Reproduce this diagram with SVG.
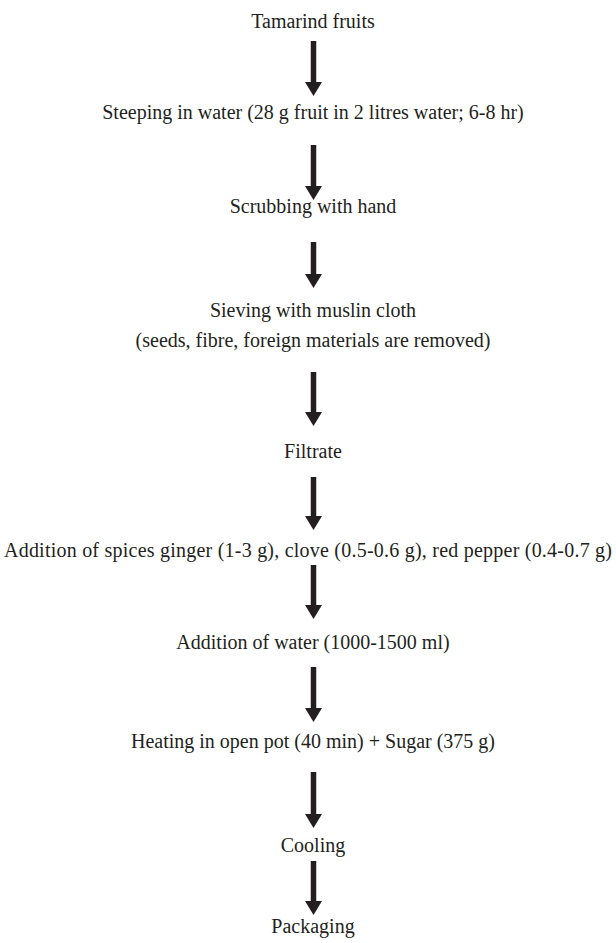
<svg xmlns="http://www.w3.org/2000/svg" width="616" height="943" viewBox="0 0 616 943">
<style>
  text { font-family: "Liberation Serif", "Times New Roman", serif; font-size: 20px; fill: #231f20; text-anchor: middle; }
  .arr { stroke: #231f20; stroke-width: 5.5; fill: none; marker-end: url(#head); }
</style>
<defs>
  <marker id="head" markerUnits="userSpaceOnUse" markerWidth="14" markerHeight="17" viewBox="0 0 14 17" refX="1" refY="8.5" orient="auto">
    <path d="M0,0 L14,8.5 L0,17 Z" fill="#231f20"/>
  </marker>
</defs>
<rect width="616" height="943" fill="#ffffff"/>
<g id="connectors">
  <line class="arr" x1="313.5" y1="41" x2="313.5" y2="83"/>
  <line class="arr" x1="313.5" y1="145" x2="313.5" y2="187"/>
  <line class="arr" x1="313.5" y1="242" x2="313.5" y2="275"/>
  <line class="arr" x1="313.5" y1="372" x2="313.5" y2="413"/>
  <line class="arr" x1="313.5" y1="477" x2="313.5" y2="517"/>
  <line class="arr" x1="313.5" y1="565" x2="313.5" y2="606"/>
  <line class="arr" x1="313.5" y1="667" x2="313.5" y2="709"/>
  <line class="arr" x1="313.5" y1="772" x2="313.5" y2="815"/>
  <line class="arr" x1="313.5" y1="861" x2="313.5" y2="902"/>
</g>
<g id="n1"><text x="313" y="28">Tamarind fruits</text></g>
<g id="n2"><text x="313" y="119">Steeping in water (28 g fruit in 2 litres water; 6-8 hr)</text></g>
<g id="n3"><text x="313" y="213">Scrubbing with hand</text></g>
<g id="n4"><text x="313" y="317">Sieving with muslin cloth</text><text x="313" y="347">(seeds, fibre, foreign materials are removed)</text></g>
<g id="n5"><text x="313" y="458">Filtrate</text></g>
<g id="n6"><text x="308" y="557" textLength="608" lengthAdjust="spacing">Addition of spices ginger (1-3 g), clove (0.5-0.6 g), red pepper (0.4-0.7 g)</text></g>
<g id="n7"><text x="313" y="649">Addition of water (1000-1500 ml)</text></g>
<g id="n8"><text x="313" y="748">Heating in open pot (40 min) + Sugar (375 g)</text></g>
<g id="n9"><text x="313" y="852">Cooling</text></g>
<g id="n10"><text x="313" y="933">Packaging</text></g>
</svg>
